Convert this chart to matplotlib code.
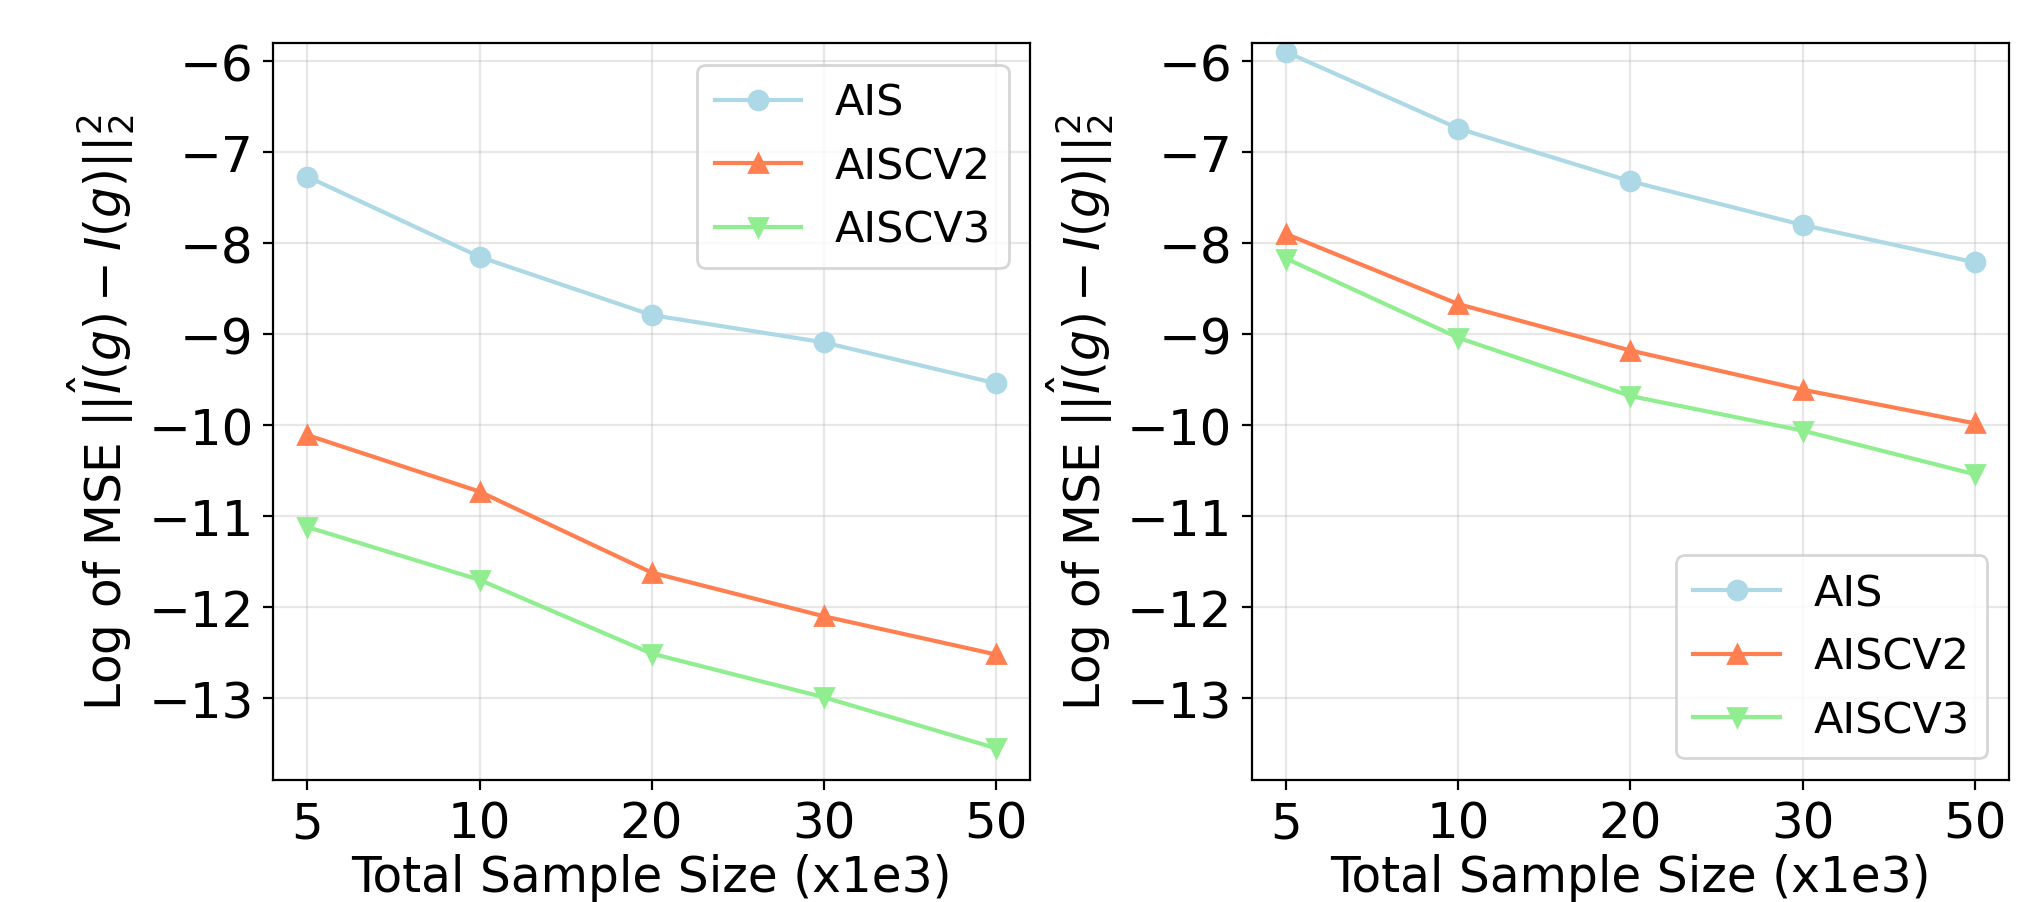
import matplotlib.pyplot as plt
import numpy as np

# sample sizes (x1e3), plotted as equally spaced categories
sizes = ['5', '10', '20', '30', '50']

# left panel
left_ais = [-7.27, -8.15, -8.79, -9.09, -9.54]
left_cv2 = [-10.11, -10.73, -11.62, -12.10, -12.52]
left_cv3 = [-11.12, -11.70, -12.51, -12.99, -13.55]

# right panel
right_ais = [-5.90, -6.74, -7.32, -7.80, -8.21]
right_cv2 = [-7.90, -8.67, -9.18, -9.61, -9.98]
right_cv3 = [-8.17, -9.04, -9.68, -10.06, -10.54]

methods = ['AIS', 'AISCV2', 'AISCV3']
colors = ['lightblue', 'coral', 'lightgreen']
markers = ['o', '^', 'v']
yticks = [-13, -12, -11, -10, -9, -8, -7, -6]

panels = [
    ([left_ais, left_cv2, left_cv3], 'upper right'),
    ([right_ais, right_cv2, right_cv3], 'lower right'),
]

fig, axes = plt.subplots(1, 2, figsize=(10.12, 4.515), dpi=200)
fig.subplots_adjust(left=0.1349, right=0.9926, bottom=0.1351, top=0.9513, wspace=0.293)

x = np.arange(len(sizes))
ylabel = r'Log of MSE $||\hat{I}(g) - I(g)||_2^2$'

for ax, (series, loc) in zip(axes, panels):
    for vals, name, c, m in zip(series, methods, colors, markers):
        ax.plot(x, vals, marker=m, color=c, label=name, linewidth=1.5, markersize=6.8)
    ax.set_xticks(x)
    ax.set_xticklabels(sizes)
    ax.set_yticks(yticks)
    ax.set_ylim(-13.9, -5.8)
    ax.tick_params(labelsize=18)
    ax.set_xlabel('Total Sample Size (x1e3)', fontsize=17.5, labelpad=2)
    ax.set_ylabel(ylabel, fontsize=17.5)
    ax.grid(True, alpha=0.3)
    ax.legend(loc=loc, fontsize=15.5)

fig.savefig('out.png')
